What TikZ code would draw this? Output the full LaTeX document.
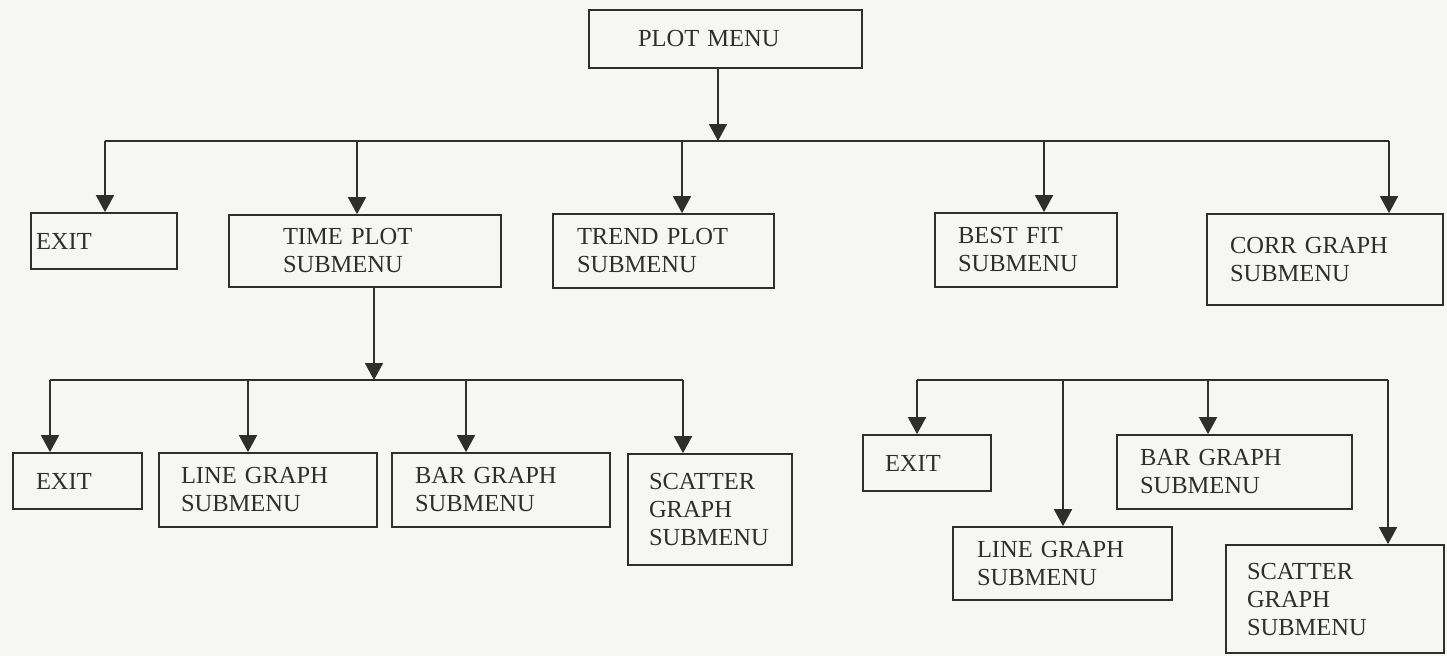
\documentclass[tikz,border=0pt]{standalone}
\usepackage{fontspec}
\setmainfont{Liberation Serif}
\usetikzlibrary{arrows.meta}
\definecolor{ink}{HTML}{2E2E2E}
\definecolor{paper}{HTML}{F6F6F4}
\newcommand{\menubox}[7]{%
  \node[menubox, minimum width={(#4-#2)*1pt}, minimum height={(#5-#3)*1pt},
        text width={(#2+#4-2*#6)*1pt}] (#1) at ({(#2+#4)/2},{(#3+#5)/2}) {#7};}
\begin{document}
\begin{tikzpicture}[x=1pt,y=-1pt,
  menubox/.style={draw=ink, line width=1.7pt, rectangle, inner sep=0pt, align=left,
    font=\fontsize{24.5}{28}\selectfont, text=ink},
  bus/.style={draw=ink, line width=1.7pt},
  arr/.style={draw=ink, line width=1.7pt, -{Triangle[width=18pt,length=17pt]}}]
\fill[paper] (0,0) rectangle (1447,656);
\useasboundingbox (0,0) rectangle (1447,656);
% level 0
\menubox{pm}{589}{10}{862}{68}{638}{PLOT MENU}
% level 1
\menubox{exitA}{31}{213}{177}{269}{36}{EXIT}
\menubox{time}{229}{215}{501}{287}{283}{TIME PLOT\\SUBMENU}
\menubox{trend}{553}{214}{774}{288}{577}{TREND PLOT\\SUBMENU}
\menubox{best}{935}{213}{1117}{287}{958}{BEST FIT\\SUBMENU}
\menubox{corr}{1207}{214}{1443}{305}{1230}{CORR GRAPH\\SUBMENU\\[14pt]}
% level 2 left
\menubox{exitB}{13}{453}{142}{509}{36}{EXIT}
\menubox{lineA}{159}{453}{377}{527}{181}{LINE GRAPH\\SUBMENU}
\menubox{barA}{392}{453}{610}{527}{415}{BAR GRAPH\\SUBMENU}
\menubox{scatA}{628}{454}{792}{565}{649}{SCATTER\\GRAPH\\SUBMENU}
% level 2 right
\menubox{exitC}{863}{435}{991}{491}{885}{EXIT}
\menubox{lineB}{953}{527}{1172}{600}{977}{LINE GRAPH\\SUBMENU}
\menubox{barB}{1117}{435}{1352}{509}{1140}{BAR GRAPH\\SUBMENU}
\menubox{scatB}{1226}{545}{1444}{653}{1247}{SCATTER\\GRAPH\\SUBMENU}
% bus 1
\coordinate (b1) at (718,141);
\coordinate (t1) at (105,141);
\coordinate (t2) at (357,141);
\coordinate (t3) at (682,141);
\coordinate (t4) at (1044,141);
\coordinate (t5) at (1389,141);
\draw[arr] (pm.south -| b1) -- (b1);
\draw[bus] (t1) -- (t5);
\draw[arr] (t1) -- (t1 |- exitA.north);
\draw[arr] (t2) -- (t2 |- time.north);
\draw[arr] (t3) -- (t3 |- trend.north);
\draw[arr] (t4) -- (t4 |- best.north);
\draw[arr] (t5) -- (t5 |- corr.north);
% bus 2
\coordinate (b2) at (374,380);
\coordinate (u1) at (50,380);
\coordinate (u2) at (248,380);
\coordinate (u3) at (466,380);
\coordinate (u4) at (683,380);
\draw[arr] (time.south -| b2) -- (b2);
\draw[bus] (u1) -- (u4);
\draw[arr] (u1) -- (u1 |- exitB.north);
\draw[arr] (u2) -- (u2 |- lineA.north);
\draw[arr] (u3) -- (u3 |- barA.north);
\draw[arr] (u4) -- (u4 |- scatA.north);
% bus 3
\coordinate (v1) at (917,380);
\coordinate (v2) at (1063,380);
\coordinate (v3) at (1208,380);
\coordinate (v4) at (1388,380);
\draw[bus] (v1) -- (v4);
\draw[arr] (v1) -- (v1 |- exitC.north);
\draw[arr] (v2) -- (v2 |- lineB.north);
\draw[arr] (v3) -- (v3 |- barB.north);
\draw[arr] (v4) -- (v4 |- scatB.north);
\end{tikzpicture}
\end{document}
